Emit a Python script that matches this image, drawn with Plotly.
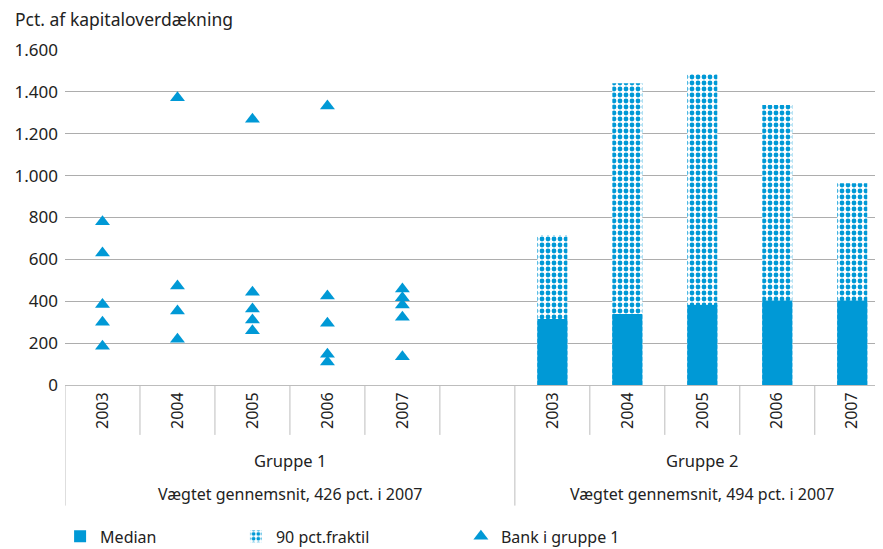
import plotly.graph_objects as go

years = ["2003", "2004", "2005", "2006", "2007"]

# Gruppe 1: kapitaloverdækning for de enkelte banker (pct.)
bank_2003 = [780, 630, 385, 300, 185]
bank_2004 = [1372, 473, 353, 218]
bank_2005 = [1269, 443, 363, 310, 259]
bank_2006 = [1332, 425, 295, 147, 110]
bank_2007 = [458, 417, 382, 323, 135]

# Gruppe 2: median og 90 pct. fraktil
median_g2 = [315, 339, 382, 403, 403]
fraktil90_g2 = [716, 1441, 1485, 1337, 963]

group_labels = ["Gruppe 1", "Gruppe 2"]
group_notes = ["Vægtet gennemsnit, 426 pct. i 2007", "Vægtet gennemsnit, 494 pct. i 2007"]

blue = "#0099D6"
font = "Noto Sans"
txt = "#222222"

# positions: gruppe 1 i slot 0-4, tom slot 5, gruppe 2 i slot 6-10
pos_g1 = [0, 1, 2, 3, 4]
pos_g2 = [6, 7, 8, 9, 10]

bank_x = []
bank_y = []
for p, vals in zip(pos_g1, [bank_2003, bank_2004, bank_2005, bank_2006, bank_2007]):
    bank_x += [p] * len(vals)
    bank_y += vals

fig = go.Figure()

# fraktil drawn first, median on top of it
fig.add_trace(go.Bar(
    x=pos_g2, y=fraktil90_g2, name="90 pct.fraktil", width=0.4, legend="legend2",
    marker=dict(
        color="white",
        line=dict(width=0),
        pattern=dict(shape=".", fgcolor=blue, bgcolor="white", size=6, solidity=0.5, fgopacity=1),
    ),
))
fig.add_trace(go.Bar(
    x=pos_g2, y=median_g2, name="Median", width=0.4, legend="legend",
    marker=dict(color=blue, line=dict(width=0)),
))
fig.add_trace(go.Scatter(
    x=bank_x, y=bank_y, mode="markers", name="Bank i gruppe 1", legend="legend3",
    marker=dict(symbol="triangle-up", size=13, color=blue),
))

shapes = []
# short separators between categories
for b in [0.5, 1.5, 2.5, 3.5, 4.5, 6.5, 7.5, 8.5, 9.5]:
    shapes.append(dict(type="line", xref="x", yref="paper", x0=b, x1=b, y0=0, y1=-0.149,
                       line=dict(color="#bdbdbd", width=1)))
# group dividers
for b in [-0.5, 5.5]:
    shapes.append(dict(type="line", xref="x", yref="paper", x0=b, x1=b, y0=0, y1=-0.36,
                       line=dict(color="#bdbdbd", width=1)))

annotations = [
    dict(text="Pct. af kapitaloverdækning", xref="paper", yref="paper", x=-0.064, y=1.094,
         xanchor="left", yanchor="middle", showarrow=False, font=dict(size=17.5, color=txt)),
]
for cx, g, n in zip([2.5, 8], group_labels, group_notes):
    annotations.append(dict(text=g, xref="x", yref="paper", x=cx, y=-0.224, showarrow=False,
                            xanchor="center", yanchor="middle", font=dict(size=16.5, color=txt)))
    annotations.append(dict(text=n, xref="x", yref="paper", x=cx, y=-0.325, showarrow=False,
                            xanchor="center", yanchor="middle", font=dict(size=16, color=txt)))

leg = dict(orientation="h", y=-0.452, xanchor="left", yanchor="middle",
           font=dict(size=16, color=txt), bgcolor="rgba(0,0,0,0)")

# page body adds 8px offset, so the figure is drawn 8px smaller
fig.update_layout(
    width=875, height=541,
    margin=dict(l=57, r=0, t=42, b=164, autoexpand=False),
    barmode="overlay",
    separators=",.",
    plot_bgcolor="white",
    paper_bgcolor="white",
    font=dict(family=font, size=16, color=txt),
    showlegend=True,
    legend=dict(leg, x=-0.006),
    legend2=dict(leg, x=0.209),
    legend3=dict(leg, x=0.484),
    shapes=shapes,
    annotations=annotations,
)
fig.update_xaxes(
    range=[-0.5, 10.41],
    tickvals=pos_g1 + pos_g2,
    ticktext=years + years,
    tickangle=-90,
    ticks="",
    showgrid=False,
    zeroline=False,
    automargin=False,
    showline=True, linecolor="#bdbdbd", linewidth=1,
    tickfont=dict(size=16, color=txt),
)
fig.update_yaxes(
    range=[0, 1600],
    tickvals=[0, 200, 400, 600, 800, 1000, 1200, 1400, 1600],
    tickformat=",d",
    showgrid=True, gridcolor="#adadad", gridwidth=1,
    zeroline=False,
    showline=False,
    automargin=False,
    ticks="",
    ticklabelstandoff=6,
    tickfont=dict(size=17, color=txt),
)

fig.write_html("out.html")
